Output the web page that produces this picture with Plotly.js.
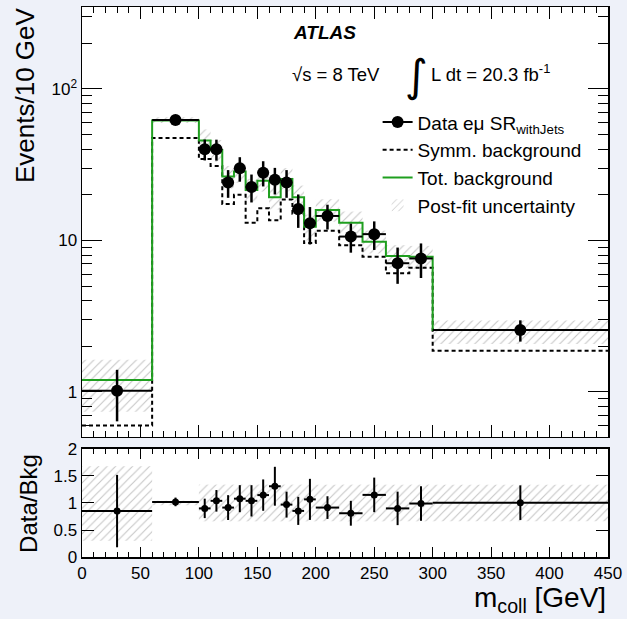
<!DOCTYPE html>
<html><head><meta charset="utf-8">
<script src="https://cdn.plot.ly/plotly-3.0.1.min.js"></script>
<style>html,body{margin:0;padding:0;background:#eef1f9;} #chart{width:627px;height:619px;}</style>
</head><body><div id="chart"></div>
<script>
// bins in m_coll [GeV]
const binEdges = [0,60,100,110,120,130,140,150,160,170,180,190,200,220,240,260,280,300,450];
const binCenters = [30,80,105,115,125,135,145,155,165,175,185,195,210,230,250,270,290,375];
const binHalfWidths = [30,20,5,5,5,5,5,5,5,5,5,5,10,10,10,10,10,75];
// main panel (Events / 10 GeV)
const dataValues = [1.02,62.3,40.0,39.9,24.1,29.9,22.5,28.0,25.1,24.1,16.1,13.0,14.5,10.6,11.0,7.07,7.6,2.56];
const dataErrors = [0.38,3.9,6.3,6.3,5.0,5.5,4.7,5.3,5.0,5.0,4.0,3.6,2.7,2.3,2.35,1.9,1.95,0.41];
const totBkg = [1.20,61.8,45.6,39.5,26.4,28.5,21.5,24.8,19.3,25.4,19.3,12.3,15.9,13.1,9.8,7.9,7.8,2.56];
const symmBkg = [0.60,47.3,34.4,31.0,17.4,20.0,13.1,16.3,13.6,18.6,15.0,9.6,11.6,9.3,7.8,6.07,6.6,1.87];
const uncLow = [0.74,59.5,38,33,22,24,18,21,16,21,16,10,13.3,11,8.2,6.6,6.5,2.07];
const uncHigh = [1.63,65,54,46,31,33,25.5,29,23,30,23,14.8,18.7,15.5,11.6,9.3,9.2,2.96];
// ratio panel (Data / Bkg)
const ratioValues = [0.85,1.02,0.90,1.04,0.915,1.08,1.04,1.146,1.31,0.97,0.854,1.067,0.915,0.81,1.15,0.90,0.99,1.006];
const ratioErrors = [0.67,0.08,0.18,0.20,0.23,0.25,0.29,0.29,0.36,0.24,0.26,0.38,0.21,0.23,0.32,0.31,0.32,0.32];
const ratioUncLow = [0.30,0.96,0.66,0.66,0.66,0.66,0.66,0.66,0.66,0.66,0.66,0.66,0.66,0.66,0.66,0.66,0.66,0.66];
const ratioUncHigh = [1.68,1.04,1.34,1.34,1.34,1.34,1.34,1.34,1.34,1.34,1.34,1.34,1.34,1.34,1.34,1.34,1.34,1.34];

const FONT = 'Liberation Sans, Arial, Helvetica, sans-serif';
const GREEN = '#1f9f1f';
const stepY = v => v.concat([v[v.length-1]]);
const widths = binHalfWidths.map(h => 2*h);
// interleave gaps so the data trace can carry a line in its legend icon without connecting points
const gapped = a => a.flatMap((v,i) => i ? [null, v] : [v]);
const hatch = {shape:'/', fgcolor:'#8c8c8c', bgcolor:'rgba(0,0,0,0)', size:6, solidity:0.18, fillmode:'overlay'};

const traces = [
  {type:'bar', x:binCenters, width:widths, base:uncLow, y:uncHigh.map((h,i)=>h-uncLow[i]),
   xaxis:'x', yaxis:'y', name:'Post-fit uncertainty', legendrank:4,
   marker:{color:'rgba(0,0,0,0)', line:{width:0}, pattern:hatch}, hoverinfo:'skip'},
  {type:'bar', x:binCenters, width:widths, base:ratioUncLow, y:ratioUncHigh.map((h,i)=>h-ratioUncLow[i]),
   xaxis:'x2', yaxis:'y2', showlegend:false,
   marker:{color:'rgba(0,0,0,0)', line:{width:0}, pattern:hatch}, hoverinfo:'skip'},
  {type:'scatter', mode:'lines', x:binEdges, y:stepY(symmBkg), line:{shape:'hv', color:'black', width:2, dash:'4px,3px'},
   xaxis:'x', yaxis:'y', name:'Symm. background', legendrank:2},
  {type:'scatter', mode:'lines', x:binEdges, y:stepY(totBkg), line:{shape:'hv', color:GREEN, width:2},
   xaxis:'x', yaxis:'y', name:'Tot. background', legendrank:3},
  {type:'scatter', mode:'lines+markers', x:gapped(binCenters), y:gapped(dataValues), connectgaps:false,
   line:{color:'black', width:2},
   error_y:{type:'data', array:gapped(dataErrors), color:'black', thickness:2.5, width:0},
   error_x:{type:'data', array:gapped(binHalfWidths), color:'black', thickness:2, width:0},
   marker:{color:'black', size:12}, xaxis:'x', yaxis:'y', name:'Data eμ SR<sub>withJets</sub>', legendrank:1},
  {type:'scatter', mode:'markers', x:binCenters, y:ratioValues,
   error_y:{type:'data', array:ratioErrors, color:'black', thickness:2, width:0},
   error_x:{type:'data', array:binHalfWidths, color:'black', thickness:2, width:0},
   marker:{color:'black', size:7}, xaxis:'x2', yaxis:'y2', showlegend:false}
];

const axisCommon = {showline:true, linecolor:'black', linewidth:1.5, mirror:'allticks', ticks:'inside',
  tickcolor:'black', showgrid:false, zeroline:false, tickfont:{family:FONT, size:17, color:'black'}};

const layout = {
  width:627, height:619,
  margin:{l:82, r:19, t:7, b:62},
  paper_bgcolor:'#eef1f9', plot_bgcolor:'white',
  barmode:'overlay', showlegend:true,
  font:{family:FONT, color:'black'},
  legend:{x:0.562, y:0.825, xanchor:'left', yanchor:'top', bgcolor:'rgba(0,0,0,0)',
    font:{family:FONT, size:19, color:'black'}, tracegroupgap:0},
  xaxis:Object.assign({}, axisCommon, {domain:[0,1], range:[0,450], anchor:'y', showticklabels:false,
    tickvals:[0,50,100,150,200,250,300,350,400,450], ticklen:12,
    minor:{dtick:10, tick0:0, ticklen:6, ticks:'inside', tickcolor:'black'}}),
  yaxis:Object.assign({}, axisCommon, {domain:[0.2182,1], type:'log', range:[-0.297,2.540], anchor:'x',
    tickmode:'array', tickvals:[1,10,100], ticktext:['1','10','10<sup>2</sup>'], ticklen:20,
    minor:{tickmode:'array', tickvals:[0.6,0.7,0.8,0.9,2,3,4,5,6,7,8,9,20,30,40,50,60,70,80,90,200,300], ticklen:10, ticks:'inside', tickcolor:'black'}}),
  xaxis2:Object.assign({}, axisCommon, {domain:[0,1], range:[0,450], anchor:'y2',
    tickvals:[0,50,100,150,200,250,300,350,400,450], ticklen:10,
    minor:{dtick:10, tick0:0, ticklen:5, ticks:'inside', tickcolor:'black'}}),
  yaxis2:Object.assign({}, axisCommon, {domain:[0,0.1964], range:[0,2], anchor:'x2',
    tickvals:[0,0.5,1,1.5,2], ticktext:['0','0.5','1','1.5','2'], ticklen:12}),
  annotations:[
    {xref:'paper', yref:'paper', x:0.397, y:0.9545, xanchor:'left', yanchor:'middle', showarrow:false,
     text:'<b><i>ATLAS</i></b>', font:{family:FONT, size:19, color:'black'}},
    {xref:'paper', yref:'paper', x:0.395, y:0.877, xanchor:'left', yanchor:'middle', showarrow:false,
     text:'√s = 8 TeV', font:{family:FONT, size:18.5, color:'black'}},
    {xref:'paper', yref:'paper', x:0.61, y:0.875, xanchor:'left', yanchor:'middle', showarrow:false,
     text:'∫', font:{family:'DejaVu Sans', size:44, color:'black'}},
    {xref:'paper', yref:'paper', x:0.66, y:0.88, xanchor:'left', yanchor:'middle', showarrow:false,
     text:'L dt = 20.3 fb<sup>-1</sup>', font:{family:FONT, size:18.5, color:'black'}},
    {xref:'paper', yref:'paper', x:-0.108, y:1.004, xanchor:'center', yanchor:'top', showarrow:false, textangle:-90,
     text:'Events/10 GeV', font:{family:FONT, size:26, color:'black'}},
    {xref:'paper', yref:'paper', x:-0.103, y:0.098, xanchor:'center', yanchor:'middle', showarrow:false, textangle:-90,
     text:'Data/Bkg', font:{family:FONT, size:24, color:'black'}},
    {xref:'paper', yref:'paper', x:1.0, y:-0.078, xanchor:'right', yanchor:'middle', showarrow:false,
     text:'m<sub>coll</sub> [GeV]', font:{family:FONT, size:28, color:'black'}}
  ]
};

Plotly.newPlot('chart', traces, layout, {displayModeBar:false, staticPlot:true});
</script></body></html>
